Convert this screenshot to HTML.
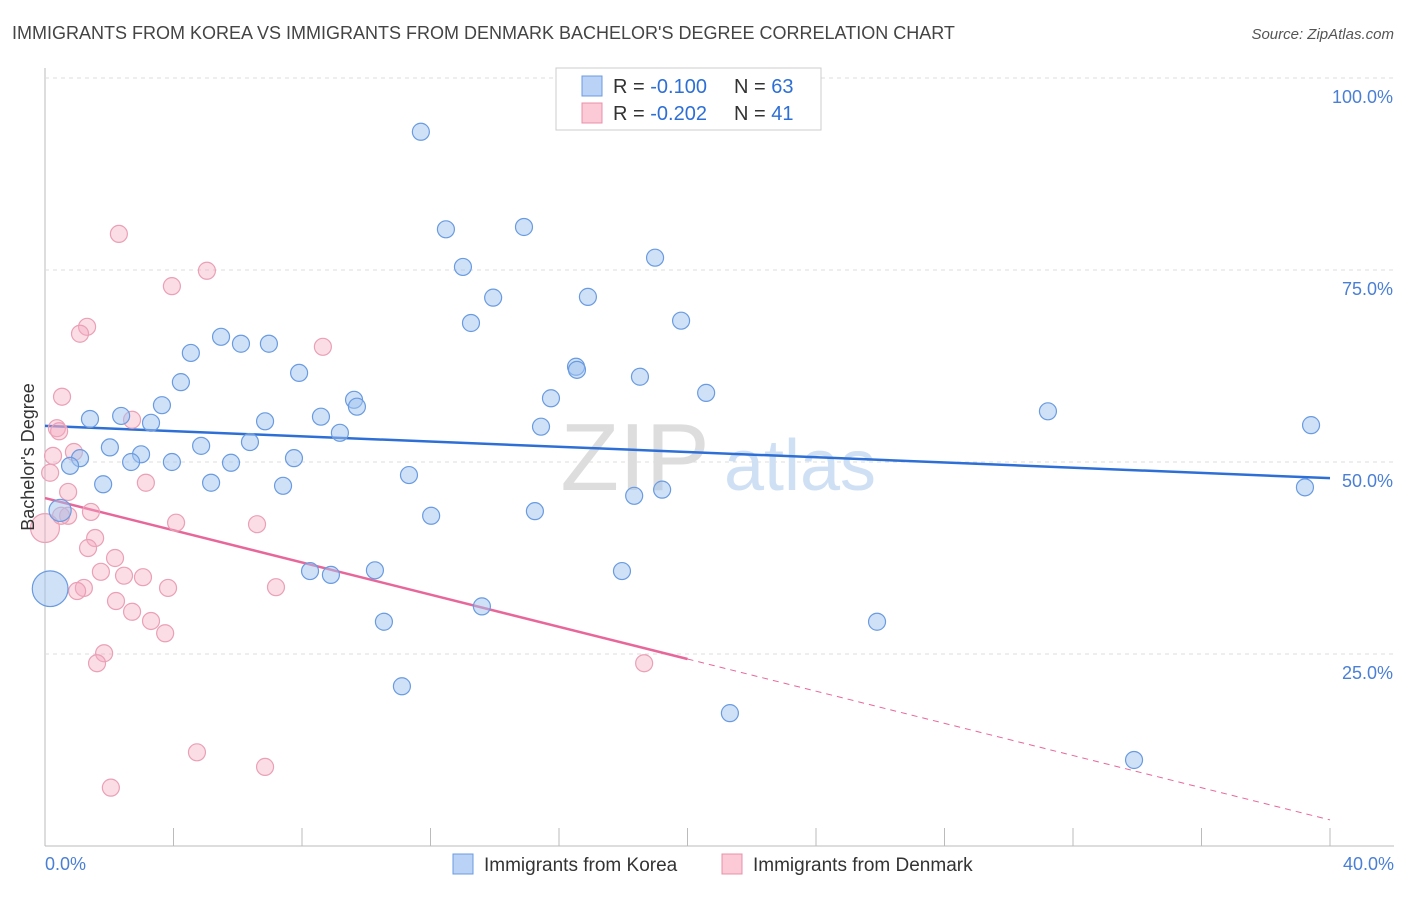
<!DOCTYPE html>
<html><head><meta charset="utf-8"><style>
body{margin:0;background:#fff;font-family:"Liberation Sans",sans-serif}
svg text{font-family:"Liberation Sans",sans-serif}
</style></head><body>
<svg width="1406" height="892">
<text x="12" y="39" font-size="18" fill="#444">IMMIGRANTS FROM KOREA VS IMMIGRANTS FROM DENMARK BACHELOR'S DEGREE CORRELATION CHART</text>
<text x="1394" y="39" font-size="15" fill="#555" text-anchor="end" font-style="italic">Source: ZipAtlas.com</text>
<g id="grid"></g>
<text x="635" y="490" font-size="96" fill="#ddd" font-family="Liberation Serif" text-anchor="middle">ZIP</text>
<text x="800" y="490" font-size="72" fill="#cfe0f5" text-anchor="middle">atlas</text>
<g id="lines"></g>
<g id="pts"></g>
<text transform="translate(34,457) rotate(-90)" font-size="18" fill="#333" text-anchor="middle">Bachelor's Degree</text>
<text x="45" y="870" font-size="18" fill="#4a7fd4">0.0%</text>
<text x="1394" y="870" font-size="18" fill="#4a7fd4" text-anchor="end">40.0%</text>
<g>
<rect x="556" y="68" width="265" height="62" fill="#fff" stroke="#ccc"/>
<rect x="582" y="76" width="20" height="20" fill="#b9d2f5" stroke="#6a9be0"/>
<rect x="582" y="103" width="20" height="20" fill="#fcc9d6" stroke="#e890aa"/>
<text x="613" y="93" font-size="20" fill="#333">R = <tspan fill="#2e6fd6">-0.100</tspan><tspan x="734">N = </tspan><tspan fill="#2e6fd6">63</tspan></text>
<text x="613" y="120" font-size="20" fill="#333">R = <tspan fill="#2e6fd6">-0.202</tspan><tspan x="734">N = </tspan><tspan fill="#2e6fd6"> 41</tspan></text>
</g>
<g>
<rect x="453" y="854" width="20" height="20" fill="#b9d2f5" stroke="#6a9be0"/>
<text x="484" y="871" font-size="19" fill="#333">Immigrants from Korea</text>
<rect x="722" y="854" width="20" height="20" fill="#fcc9d6" stroke="#e890aa"/>
<text x="753" y="871" font-size="19" fill="#333">Immigrants from Denmark</text>
</g>
</svg>
<script>
const yTicks=[25,50,75,100];
const yTickLabels=["25.0%","50.0%","75.0%","100.0%"];
const koreaX=[11.70,12.48,14.91,13.01,18.99,13.95,16.90,13.26,19.80,5.48,6.10,6.97,4.54,7.91,4.23,16.53,16.56,18.52,20.58,9.62,9.71,15.75,3.64,1.40,2.37,3.30,6.85,8.59,9.18,15.44,31.22,39.41,2.02,2.99,4.86,6.38,1.09,0.78,2.68,3.95,5.79,7.75,11.33,1.81,5.17,7.41,18.34,19.21,39.22,12.02,15.25,0.47,8.25,8.90,10.27,17.96,13.60,10.55,25.90,11.11,21.32,33.90,0.16];
const koreaY=[93.0,80.3,80.6,75.4,76.6,71.4,71.5,68.1,68.4,66.3,65.4,65.4,64.2,61.6,60.4,62.4,62.0,61.1,59.0,58.1,57.2,58.3,57.4,55.6,56.0,55.1,55.3,55.9,53.8,54.6,56.6,54.8,51.9,51.0,52.1,52.6,50.5,49.5,50.0,50.0,49.9,50.5,48.3,47.1,47.3,46.9,45.6,46.4,46.7,43.0,43.6,43.7,35.8,35.3,35.9,35.8,31.2,29.2,29.2,20.8,17.3,11.2,33.5];
const koreaSize=[1,1,1,1,1,1,1,1,1,1,1,1,1,1,1,1,1,1,1,1,1,1,1,1,1,1,1,1,1,1,1,1,1,1,1,1,1,1,1,1,1,1,1,1,1,1,1,1,1,1,1,1.3,1,1,1,1,1,1,1,1,1,1,2.1];
const denX=[2.30,5.04,3.95,1.31,1.09,8.65,0.53,2.71,0.37,0.44,0.90,0.25,0.16,3.14,0.72,1.43,0.72,4.08,6.60,0.0,1.56,1.34,2.18,1.74,2.46,3.05,1.21,1.00,3.83,7.19,2.21,2.71,3.30,3.74,1.84,1.62,18.65,4.73,6.85,2.05,0.5];
const denY=[79.7,74.9,72.9,67.6,66.7,65.0,58.5,55.5,54.4,54.0,51.3,50.8,48.6,47.3,46.1,43.5,43.0,42.1,41.9,41.4,40.1,38.8,37.5,35.7,35.2,35.0,33.6,33.2,33.6,33.7,31.9,30.5,29.3,27.7,25.1,23.8,23.8,12.2,10.3,7.6,43.0];
const denSize=[1,1,1,1,1,1,1,1,1,1,1,1,1,1,1,1,1,1,1,1.7,1,1,1,1,1,1,1,1,1,1,1,1,1,1,1,1,1,1,1,1,1];
const koreaTrend=[54.7,47.9];
const denTrend=[45.3,3.4];
const denSolidEnd=20;
const NS="http://www.w3.org/2000/svg";
function sx(v){return 45+v/40*1285;}
function sy(v){return 846-v/100*768;}
function mk(t,a,p){const e=document.createElementNS(NS,t);for(const k in a)e.setAttribute(k,a[k]);p.appendChild(e);return e;}
const grid=document.getElementById('grid');
mk('line',{x1:45,y1:68,x2:45,y2:846,stroke:'#bbb'},grid);
mk('line',{x1:45,y1:846,x2:1394,y2:846,stroke:'#bbb'},grid);
for(let i=0;i<=10;i++){const l=mk('line',{x1:sx(i*4),x2:sx(i*4),y1:828,y2:846,stroke:'#bbb'},grid);

}
yTicks.forEach((v,i)=>{const l=mk('line',{x1:45,x2:1394,y1:sy(v),y2:sy(v),stroke:'#ddd','stroke-dasharray':'4,4'},grid);


const t=mk('text',{x:1393,y:sy(v)+25,'font-size':18,fill:'#4a7fd4','text-anchor':'end'},grid);t.textContent=yTickLabels[i];

});
const ln=document.getElementById('lines');
let a=mk('line',{x1:sx(0),y1:sy(koreaTrend[0]),x2:sx(40),y2:sy(koreaTrend[1]),stroke:'#2e6fd6','stroke-width':2.5},ln);


const dy=x=>denTrend[0]+(denTrend[1]-denTrend[0])*x/40;
a=mk('line',{x1:sx(0),y1:sy(dy(0)),x2:sx(denSolidEnd),y2:sy(dy(denSolidEnd)),stroke:'#e8679a','stroke-width':2.5},ln);


a=mk('line',{x1:sx(denSolidEnd),y1:sy(dy(denSolidEnd)),x2:sx(40),y2:sy(dy(40)),stroke:'#e8679a','stroke-width':1,'stroke-dasharray':'6,5'},ln);


const pts=document.getElementById('pts');
denX.forEach((x,i)=>{const c=mk('circle',{cx:sx(x),cy:sy(denY[i]),r:8.5*denSize[i],fill:'rgba(245,170,192,0.4)',stroke:'#eaa0b6','stroke-width':1.2},pts);

});
koreaX.forEach((x,i)=>{const c=mk('circle',{cx:sx(x),cy:sy(koreaY[i]),r:8.5*koreaSize[i],fill:'rgba(160,195,240,0.5)',stroke:'#6a9be0','stroke-width':1.2},pts);

});
</script>
</body></html>
